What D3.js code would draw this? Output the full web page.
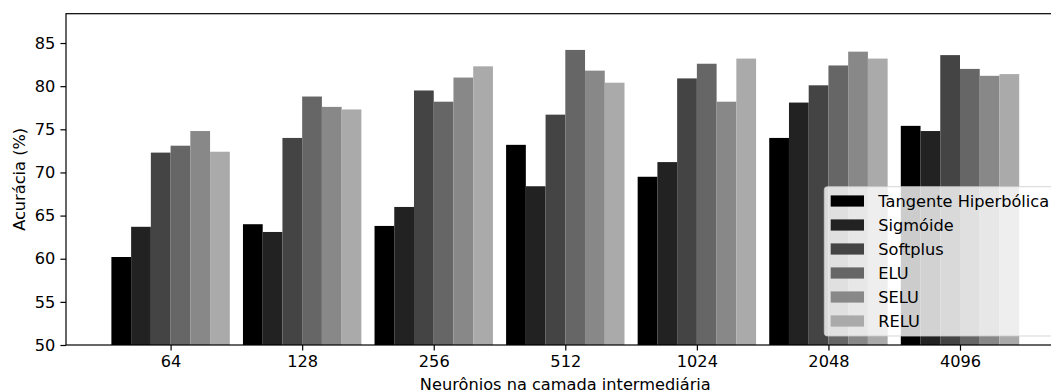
<!DOCTYPE html>
<html>
<head>
<meta charset="utf-8">
<script src="https://cdn.jsdelivr.net/npm/d3@7"></script>
<style>
  body { margin: 0; background: #fff; }
  svg { display: block; font-family: "DejaVu Sans", sans-serif; }
</style>
</head>
<body>
<svg id="chart"></svg>
<script>
// Data
var categories = ["64", "128", "256", "512", "1024", "2048", "4096"];
var seriesNames = ["Tangente Hiperbólica", "Sigmóide", "Softplus", "ELU", "SELU", "RELU"];
var seriesColors = ["#000000", "#222222", "#444444", "#666666", "#888888", "#aaaaaa"];

var tanh     = [60.2, 64.0, 63.8, 73.2, 69.5, 74.0, 75.4];
var sigmoide = [63.7, 63.1, 66.0, 68.4, 71.2, 78.1, 74.8];
var softplus = [72.3, 74.0, 79.5, 76.7, 80.9, 80.1, 83.6];
var elu      = [73.1, 78.8, 78.2, 84.2, 82.6, 82.4, 82.0];
var selu     = [74.8, 77.6, 81.0, 81.8, 78.2, 84.0, 81.2];
var relu     = [72.4, 77.3, 82.3, 80.4, 83.2, 83.2, 81.4];
var series = [tanh, sigmoide, softplus, elu, selu, relu];

var yTicks = [50, 55, 60, 65, 70, 75, 80, 85];

// Canvas
var width = 1051, height = 392;
var margin = {top: 13.7, left: 66, bottom: 345, right: 1064.6};
var fs = 16.2;
var barW = 0.15;

var svg = d3.select("#chart")
    .attr("width", width)
    .attr("height", height);

// Scales (index based x, like the bar offsets)
var x = d3.scaleLinear().domain([-0.795, 6.795]).range([margin.left, margin.right]);
var y = d3.scaleLinear().domain([50, 88.4]).range([margin.bottom, margin.top]);

// Bars
series.forEach(function(vals, j) {
    svg.append("g")
        .selectAll("rect")
        .data(vals)
        .enter()
        .append("rect")
        .attr("x", function(d, i) { return x(i + (j - 2.5) * barW - barW / 2); })
        .attr("width", function() { return x(barW) - x(0); })
        .attr("y", function(d) { return y(d); })
        .attr("height", function(d) { return y(50) - y(d); })
        .attr("fill", seriesColors[j]);
});

// Axes
var x_axis = d3.axisBottom(x)
    .tickValues(d3.range(categories.length))
    .tickFormat(function(d) { return categories[d]; })
    .tickSizeInner(5.6).tickSizeOuter(0).tickPadding(5);
var y_axis = d3.axisLeft(y)
    .tickValues(yTicks)
    .tickSizeInner(5.6).tickSizeOuter(0).tickPadding(5);

var gx = svg.append("g")
    .attr("transform", "translate(0," + margin.bottom + ")")
    .call(x_axis);
var gy = svg.append("g")
    .attr("transform", "translate(" + margin.left + ",0)")
    .call(y_axis);

[gx, gy].forEach(function(g) {
    g.selectAll("text").attr("font-size", fs).attr("fill", "#000")
        .attr("font-family", "DejaVu Sans, sans-serif");
    g.selectAll("line").attr("stroke", "#000").attr("stroke-width", 1.2);
    g.select(".domain").remove();
});

// Spines
svg.append("rect")
    .attr("x", margin.left)
    .attr("y", margin.top)
    .attr("width", margin.right - margin.left)
    .attr("height", margin.bottom - margin.top)
    .attr("fill", "none")
    .attr("stroke", "#000")
    .attr("stroke-width", 1.2);

// Axis labels
svg.append("text")
    .attr("x", (margin.left + margin.right) / 2)
    .attr("y", 389.5)
    .attr("text-anchor", "middle")
    .attr("font-size", fs)
    .text("Neurônios na camada intermediária");

svg.append("text")
    .attr("transform", "translate(25," + ((margin.top + margin.bottom) / 2) + ") rotate(-90)")
    .attr("text-anchor", "middle")
    .attr("font-size", fs)
    .text("Acurácia (%)");

// Legend (lower right)
var legend = svg.append("g");
legend.append("rect")
    .attr("x", 824.3)
    .attr("y", 186.7)
    .attr("width", 1057.5 - 824.3)
    .attr("height", 336 - 186.7)
    .attr("rx", 3)
    .attr("fill", "#fff")
    .attr("fill-opacity", 0.8)
    .attr("stroke", "#cccccc")
    .attr("stroke-opacity", 0.8)
    .attr("stroke-width", 1);

var rows = legend.selectAll(".row")
    .data(seriesNames)
    .enter()
    .append("g")
    .attr("class", "row")
    .attr("transform", function(d, i) { return "translate(0," + (201 + i * 24) + ")"; });

rows.append("rect")
    .attr("x", 830.7)
    .attr("y", -5.6)
    .attr("width", 33.3)
    .attr("height", 11.2)
    .attr("fill", function(d, i) { return seriesColors[i]; });

rows.append("text")
    .attr("x", 878.3)
    .attr("y", 5.7)
    .attr("font-size", fs)
    .text(function(d) { return d; });
</script>
</body>
</html>
